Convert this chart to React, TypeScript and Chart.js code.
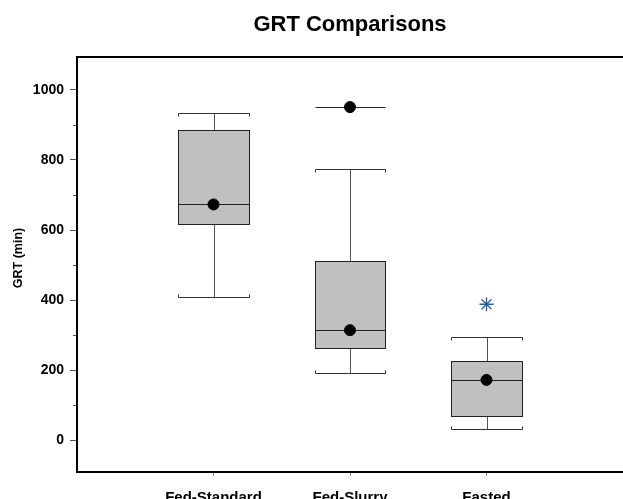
import React, { useEffect, useRef } from "react";
import { Chart, registerables } from "chart.js";

Chart.register(...registerables);

const categories = ["Fed-Standard", "Fed-Slurry", "Fasted"];
const whiskerLow = [408, 192, 32];
const q1 = [616, 264, 69];
const medians = [673, 314, 172];
const q3 = [885, 511, 225];
const whiskerHigh = [933, 775, 294];
const means = [673, 314, 172];
const extremeHigh: (number | null)[] = [null, 951, null];
const outliers: (number | null)[] = [null, null, 388];
const yTickValues = [0, 200, 400, 600, 800, 1000];
const yMinorValues = [100, 300, 500, 700, 900];

const FONT = "'Liberation Sans', Arial, Helvetica, sans-serif";
const BOX_HALF = 0.257; // in category units

const boxPlugin = {
  id: "boxPlugin",
  beforeDatasetsDraw(chart: any) {
    const { ctx, scales } = chart;
    const x = scales.x;
    const y = scales.y;
    ctx.save();
    categories.forEach((_, i) => {
      const cx = Math.round(x.getPixelForValue(i)) + 0.5;
      const l = Math.round(x.getPixelForValue(i - BOX_HALF)) + 0.5;
      const r = Math.round(x.getPixelForValue(i + BOX_HALF)) + 0.5;
      const yLo = Math.round(y.getPixelForValue(whiskerLow[i])) + 0.5;
      const yHi = Math.round(y.getPixelForValue(whiskerHigh[i])) + 0.5;
      const yQ1 = Math.round(y.getPixelForValue(q1[i])) + 0.5;
      const yQ3 = Math.round(y.getPixelForValue(q3[i])) + 0.5;
      const yMed = Math.round(y.getPixelForValue(medians[i])) + 0.5;
      // whiskers
      ctx.strokeStyle = "#555";
      ctx.lineWidth = 1;
      ctx.beginPath();
      ctx.moveTo(cx, yQ3);
      ctx.lineTo(cx, yHi);
      ctx.moveTo(cx, yQ1);
      ctx.lineTo(cx, yLo);
      ctx.stroke();
      // caps
      ctx.strokeStyle = "#333";
      ctx.beginPath();
      ctx.moveTo(l, yHi + 3);
      ctx.lineTo(l, yHi);
      ctx.lineTo(r, yHi);
      ctx.lineTo(r, yHi + 3);
      ctx.moveTo(l, yLo - 3);
      ctx.lineTo(l, yLo);
      ctx.lineTo(r, yLo);
      ctx.lineTo(r, yLo - 3);
      ctx.stroke();
      // box
      ctx.fillStyle = "#c0c0c0";
      ctx.fillRect(l, yQ3, r - l, yQ1 - yQ3);
      ctx.strokeStyle = "#222";
      ctx.strokeRect(l, yQ3, r - l, yQ1 - yQ3);
      ctx.beginPath();
      ctx.moveTo(l, yMed);
      ctx.lineTo(r, yMed);
      ctx.stroke();
      // extreme line
      const ex = extremeHigh[i];
      if (ex !== null) {
        const yEx = Math.round(y.getPixelForValue(ex)) + 0.5;
        ctx.strokeStyle = "#222";
        ctx.beginPath();
        ctx.moveTo(l, yEx);
        ctx.lineTo(r, yEx);
        ctx.stroke();
      }
    });
    // minor y ticks
    ctx.strokeStyle = "#555";
    ctx.lineWidth = 1;
    ctx.beginPath();
    yMinorValues.forEach((v) => {
      const py = Math.round(y.getPixelForValue(v)) + 0.5;
      ctx.moveTo(chart.chartArea.left - 4, py);
      ctx.lineTo(chart.chartArea.left, py);
    });
    ctx.stroke();
    ctx.restore();
  },
  afterDraw(chart: any) {
    const { ctx, chartArea } = chart;
    ctx.save();
    // frame
    ctx.strokeStyle = "#000";
    ctx.lineWidth = 2;
    ctx.beginPath();
    ctx.moveTo(chartArea.right + 2, chartArea.top);
    ctx.lineTo(chartArea.left, chartArea.top);
    ctx.lineTo(chartArea.left, chartArea.bottom);
    ctx.lineTo(chartArea.right + 2, chartArea.bottom);
    ctx.stroke();
    // title
    ctx.fillStyle = "#000";
    ctx.font = `bold 22px ${FONT}`;
    ctx.textAlign = "center";
    ctx.textBaseline = "middle";
    ctx.fillText("GRT Comparisons", 350, 25);
    // y title
    ctx.translate(19, 258);
    ctx.rotate(-Math.PI / 2);
    ctx.font = `bold 12.5px ${FONT}`;
    ctx.fillText("GRT (min)", 0, 0);
    ctx.restore();
  },
};

export default function App() {
  const ref = useRef<HTMLCanvasElement | null>(null);
  useEffect(() => {
    if (!ref.current) return;
    const chart = new Chart(ref.current, {
      type: "scatter",
      data: {
        datasets: [
          {
            label: "Mean",
            data: means.map((v, i) => ({ x: i, y: v })),
            pointStyle: "circle",
            pointRadius: 5.5,
            backgroundColor: "#000",
            borderColor: "#000",
          },
          {
            label: "Extreme",
            data: extremeHigh
              .map((v, i) => (v === null ? null : { x: i, y: v }))
              .filter((p) => p !== null) as any,
            pointStyle: "circle",
            pointRadius: 5.5,
            backgroundColor: "#000",
            borderColor: "#000",
          },
          {
            label: "Outlier",
            data: outliers
              .map((v, i) => (v === null ? null : { x: i, y: v }))
              .filter((p) => p !== null) as any,
            pointStyle: "star",
            pointRadius: 7,
            borderWidth: 1.3,
            backgroundColor: "#2f5f9e",
            borderColor: "#2f5f9e",
          },
        ],
      },
      options: {
        responsive: false,
        animation: false,
        layout: { autoPadding: false, padding: { top: 57, left: 0, right: 0, bottom: 0 } },
        plugins: {
          legend: { display: false },
          title: { display: false },
          tooltip: { enabled: false },
        },
        scales: {
          x: {
            type: "linear",
            min: -1,
            max: 3,
            afterBuildTicks: (scale: any) => {
              scale.ticks = categories.map((_, i) => ({ value: i }));
            },
            afterFit: (scale: any) => {
              scale.height = 27;
              scale.paddingLeft = 0;
              scale.paddingRight = 0;
            },
            ticks: {
              callback: (v: any) => categories[Math.round(Number(v))] ?? "",
              font: { family: FONT, size: 15, weight: "bold" },
              color: "#000",
              padding: 13,
              autoSkip: false,
              maxRotation: 0,
            },
            grid: {
              display: true,
              drawOnChartArea: false,
              drawTicks: true,
              tickLength: 4,
              color: "#888",
            },
            border: { display: false },
          },
          y: {
            type: "linear",
            min: -91,
            max: 1094,
            afterBuildTicks: (scale: any) => {
              scale.ticks = yTickValues.map((v) => ({ value: v }));
            },
            afterFit: (scale: any) => {
              scale.width = 77;
              scale.paddingTop = 0;
              scale.paddingBottom = 0;
            },
            ticks: {
              callback: (v: any) => String(v),
              font: { family: FONT, size: 14, weight: "bold" },
              color: "#000",
              padding: 6,
            },
            grid: {
              display: true,
              drawOnChartArea: false,
              drawTicks: true,
              tickLength: 7,
              color: "#555",
            },
            border: { display: false },
          },
        },
      },
      plugins: [boxPlugin],
    });
    return () => chart.destroy();
  }, []);
  return (
    <div style={{ position: "absolute", left: 0, top: 0, width: 623, height: 499, background: "#fff" }}>
      <canvas ref={ref} width={623} height={499} style={{ width: 623, height: 499 }} />
    </div>
  );
}
